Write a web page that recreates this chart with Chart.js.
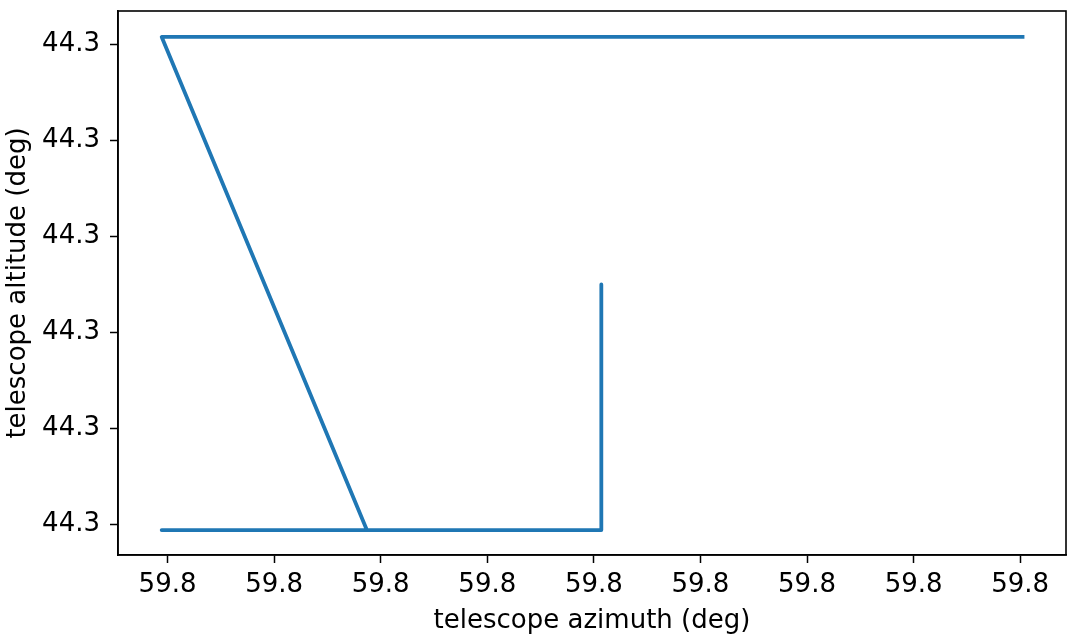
<!DOCTYPE html>
<html>
<head>
<meta charset="utf-8">
<script src="https://cdn.jsdelivr.net/npm/chart.js@4/dist/chart.umd.min.js"></script>
<style>
  html, body { margin: 0; padding: 0; background: #fff; }
  #plot { display: block; }
</style>
</head>
<body>
<canvas id="plot" width="1072" height="638"></canvas>
<script>
// track of the telescope pointing (deg)
var azimuth  = [59.7999814, 59.7999814, 59.7998989, 59.7999374, 59.7998989, 59.8000608];
var altitude = [44.2999250, 44.2998994, 44.2998994, 44.2998994, 44.2999508, 44.2999508];

// tick positions, all print as the same rounded label
var azimuthTicks  = [59.79990, 59.79992, 59.79994, 59.79996, 59.79998, 59.80000, 59.80002, 59.80004, 59.80006];
var altitudeTicks = [44.29990, 44.29991, 44.29992, 44.29993, 44.29994, 44.29995];

var azRange  = [59.7998907, 59.8000686];
var altRange = [44.2998968, 44.2999535];

var xTitle = 'telescope azimuth (deg)';
var yTitle = 'telescope altitude (deg)';

var points = azimuth.map(function (az, i) {
  return { x: az, y: altitude[i] };
});

var FONT = { family: "'DejaVu Sans', sans-serif", size: 26, lineHeight: 1.2 };

// matplotlib style box round the plot area
var frameBox = {
  id: 'frameBox',
  afterDraw: function (chart) {
    var a = chart.chartArea, ctx = chart.ctx;
    ctx.save();
    ctx.strokeStyle = '#000';
    ctx.lineWidth = 1.6;
    ctx.strokeRect(a.left, a.top, a.right - a.left, a.bottom - a.top);
    ctx.restore();
  }
};

var ctx = document.getElementById('plot').getContext('2d');
var chart = new Chart(ctx, {
  type: 'scatter',
  data: {
    datasets: [{
      data: points,
      showLine: true,
      borderColor: '#1f77b4',
      backgroundColor: '#1f77b4',
      borderWidth: 3.8,
      borderJoinStyle: 'round',
      borderCapStyle: 'butt',
      pointRadius: 0,
      pointHoverRadius: 0,
      tension: 0
    }]
  },
  options: {
    responsive: false,
    animation: false,
    devicePixelRatio: 1,
    layout: { padding: { top: 11, right: 6, left: 0, bottom: 0 } },
    plugins: {
      legend: { display: false },
      tooltip: { enabled: false }
    },
    scales: {
      x: {
        type: 'linear',
        min: azRange[0],
        max: azRange[1],
        afterBuildTicks: function (scale) {
          scale.ticks = azimuthTicks.map(function (v) { return { value: v }; });
        },
        afterFit: function (scale) {
          scale.height = 83;
          scale.paddingLeft = 0;
          scale.paddingRight = 0;
        },
        grid: { drawOnChartArea: false, drawTicks: true, tickLength: 8, tickWidth: 1.5, tickColor: '#000' },
        border: { display: true, color: '#000', width: 1.6 },
        ticks: {
          autoSkip: false,
          maxRotation: 0,
          padding: 7,
          color: '#000',
          font: FONT,
          callback: function (v) { return v.toFixed(1); }
        },
        title: { display: true, text: xTitle, color: '#000', font: FONT, padding: { top: 0, bottom: 1 } }
      },
      y: {
        type: 'linear',
        min: altRange[0],
        max: altRange[1],
        afterBuildTicks: function (scale) {
          scale.ticks = altitudeTicks.map(function (v) { return { value: v }; });
        },
        afterFit: function (scale) {
          scale.width = 118;
          scale.paddingTop = 0;
          scale.paddingBottom = 0;
        },
        grid: { drawOnChartArea: false, drawTicks: true, tickLength: 8, tickWidth: 1.5, tickColor: '#000' },
        border: { display: true, color: '#000', width: 1.6 },
        ticks: {
          autoSkip: false,
          padding: 10,
          color: '#000',
          font: FONT,
          callback: function (v) { return v.toFixed(1); }
        },
        title: { display: true, text: yTitle, color: '#000', font: FONT, padding: { top: 3, bottom: 0 } }
      }
    }
  },
  plugins: [frameBox]
});
</script>
</body>
</html>
